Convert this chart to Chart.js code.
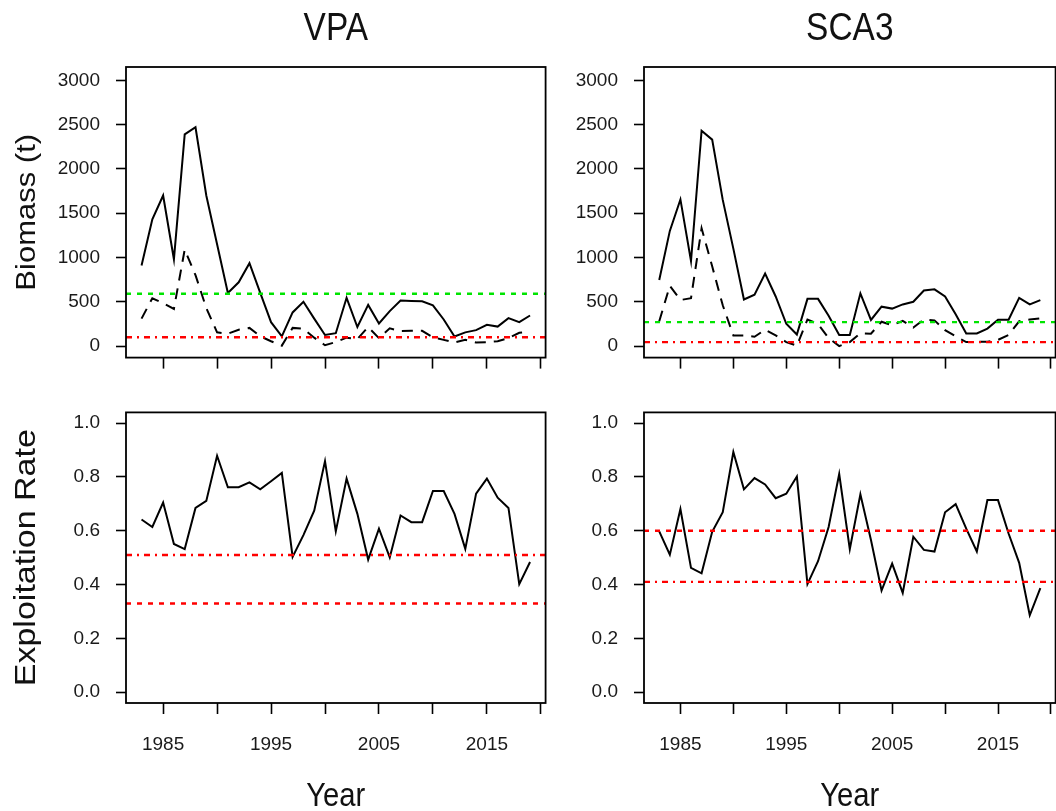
<!DOCTYPE html>
<html>
<head>
<meta charset="utf-8">
<title>VPA vs SCA3</title>
<script src="https://cdn.jsdelivr.net/npm/chart.js@4.4.1/dist/chart.umd.min.js"></script>
<style>
    html, body { margin: 0; padding: 0; background: #fff; }
    body { position: relative; width: 1056px; height: 811px; overflow: hidden; }
    canvas { position: absolute; }
</style>
</head>
<body>
<canvas id="vpaBiomass"></canvas>
<canvas id="scaBiomass"></canvas>
<canvas id="vpaRate"></canvas>
<canvas id="scaRate"></canvas>
<script>
// data
const years = [1983, 1984, 1985, 1986, 1987, 1988, 1989, 1990, 1991, 1992,
    1993, 1994, 1995, 1996, 1997, 1998, 1999, 2000, 2001, 2002,
    2003, 2004, 2005, 2006, 2007, 2008, 2009, 2010, 2011, 2012,
    2013, 2014, 2015, 2016, 2017, 2018, 2019];

const vpaTotal = [910, 1430, 1700, 980, 2390, 2470, 1700, 1150, 600, 720,
    935, 600, 270, 110, 380, 500, 310, 125, 145, 545,
    215, 465, 255, 395, 515, 510, 505, 460, 300, 108,
    155, 180, 240, 220, 315, 270, 345];
const vpaSpawning = [310, 540, 485, 420, 1090, 800, 430, 155, 140, 185,
    205, 110, 55, 5, 205, 195, 95, 10, 45, 95,
    80, 215, 90, 200, 170, 172, 172, 100, 70, 40,
    70, 40, 44, 55, 90, 150, 160];
const scaTotal = [745, 1300, 1655, 960, 2430, 2330, 1650, 1100, 526, 580,
    818, 560, 252, 131, 533, 533, 343, 124, 124, 595,
    295, 445, 423, 470, 500, 628, 640, 560, 360, 142,
    142, 197, 298, 298, 544, 471, 518];
const scaSpawning = [280, 680, 520, 540, 1330, 900, 460, 120, 120, 105,
    185, 120, 45, 5, 300, 250, 90, 0, 45, 145,
    140, 275, 235, 285, 210, 300, 290, 180, 110, 45,
    50, 50, 70, 125, 280, 300, 314];

const vpaExploit = [0.642, 0.614, 0.705, 0.551, 0.532, 0.685, 0.711, 0.879, 0.762, 0.762,
    0.780, 0.754, 0.784, 0.815, 0.503, 0.584, 0.675, 0.859, 0.598, 0.794,
    0.663, 0.493, 0.608, 0.501, 0.657, 0.632, 0.632, 0.748, 0.748, 0.663,
    0.533, 0.738, 0.794, 0.723, 0.685, 0.402, 0.484];
const scaExploit = [0.598, 0.511, 0.681, 0.462, 0.442, 0.596, 0.669, 0.893, 0.754, 0.796,
    0.772, 0.721, 0.738, 0.802, 0.402, 0.487, 0.614, 0.811, 0.532, 0.736,
    0.566, 0.378, 0.478, 0.369, 0.578, 0.529, 0.523, 0.669, 0.699, 0.608,
    0.523, 0.714, 0.714, 0.590, 0.481, 0.286, 0.387];

// reference levels: [green, red] for biomass, [upper, lower] for rate
const vpaBiomassRefs = [590, 100];
const scaBiomassRefs = [270, 45];
const vpaRateRefs = [0.51, 0.33];
const scaRateRefs = [0.60, 0.41];

const xTickYears = [1985, 1990, 1995, 2000, 2005, 2010, 2015, 2020];
const xLabelYears = [1985, 1995, 2005, 2015];
const biomassTicks = [0, 500, 1000, 1500, 2000, 2500, 3000];
const rateTicks = [0, 0.2, 0.4, 0.6, 0.8, 1.0];

const FONT = "'Liberation Sans', Arial, sans-serif";
const X_MIN = 1981.56, X_MAX = 2020.44;
const DASH = [5, 6];
const DOTDASH = [6, 5, 2, 5];
const GREEN = "#00e400";
const RED = "#ff0000";

const series = (values, dashed) => ({
    data: years.map((yr, i) => ({ x: yr, y: values[i] })),
    borderColor: "#000",
    borderWidth: 2,
    borderDash: dashed ? [11, 8] : [],
    pointRadius: 0,
    tension: 0,
    fill: false
});

const refLine = (value, color, dash) => ({
    data: [{ x: X_MIN, y: value }, { x: X_MAX, y: value }],
    borderColor: color,
    borderWidth: 2.4,
    borderDash: dash,
    pointRadius: 0,
    fill: false
});

// box round the plot plus titles, squeezed sideways like the original device
const framePlugin = {
    id: "frame",
    afterDraw(chart, args, opts) {
        const { ctx, chartArea: a } = chart;
        ctx.save();
        ctx.strokeStyle = "#000";
        ctx.lineWidth = 1.8;
        ctx.strokeRect(a.left, a.top, a.right - a.left, a.bottom - a.top);
        ctx.fillStyle = "#111";
        ctx.textAlign = "center";
        ctx.textBaseline = "alphabetic";
        const cx = (a.left + a.right) / 2;
        if (opts.title) {
            ctx.save();
            ctx.translate(cx, opts.titleY);
            ctx.scale(0.88, 1);
            ctx.font = `38px ${FONT}`;
            ctx.fillText(opts.title, 0, 0);
            ctx.restore();
        }
        if (opts.xTitle) {
            ctx.save();
            ctx.translate(cx, opts.xTitleY);
            ctx.scale(0.86, 1);
            ctx.font = `34px ${FONT}`;
            ctx.fillText(opts.xTitle, 0, 0);
            ctx.restore();
        }
        if (opts.yTitle) {
            ctx.translate(opts.yTitleX, (a.top + a.bottom) / 2);
            ctx.scale(0.88, 1);
            ctx.rotate(-Math.PI / 2);
            ctx.textBaseline = "middle";
            ctx.font = `${opts.yTitleSize}px ${FONT}`;
            ctx.fillText(opts.yTitle, 0, 0);
        }
        ctx.restore();
    }
};

function makePanel(id, p) {
    const canvas = document.getElementById(id);
    canvas.width = p.w;
    canvas.height = p.h;
    canvas.style.left = p.left + "px";
    canvas.style.top = p.top + "px";

    return new Chart(canvas, {
        type: "line",
        data: { datasets: p.datasets },
        plugins: [framePlugin],
        options: {
            responsive: false,
            animation: false,
            devicePixelRatio: 1,
            layout: { padding: { top: p.padTop, right: p.padRight, left: 0, bottom: 0 } },
            plugins: {
                legend: { display: false },
                tooltip: { enabled: false },
                frame: p.frame
            },
            scales: {
                x: {
                    type: "linear",
                    min: X_MIN,
                    max: X_MAX,
                    afterBuildTicks: s => { s.ticks = xTickYears.map(v => ({ value: v })); },
                    afterFit: s => { s.height = p.xHeight; },
                    ticks: {
                        autoSkip: false,
                        maxRotation: 0,
                        padding: 19,
                        color: "#1a1a1a",
                        font: { family: FONT, size: 19 },
                        callback: v => (p.xLabels && xLabelYears.includes(v)) ? String(v) : ""
                    },
                    grid: { drawOnChartArea: false, drawTicks: true, tickLength: 11, tickColor: "#000", tickWidth: 1.6 },
                    border: { display: false }
                },
                y: {
                    min: p.yMin,
                    max: p.yMax,
                    afterBuildTicks: s => { s.ticks = p.yTicks.map(v => ({ value: v })); },
                    afterFit: s => { s.width = p.yWidth; },
                    ticks: {
                        padding: 16,
                        color: "#1a1a1a",
                        font: { family: FONT, size: 19 },
                        callback: p.yFmt
                    },
                    grid: { drawOnChartArea: false, drawTicks: true, tickLength: 10, tickColor: "#000", tickWidth: 1.6 },
                    border: { display: false }
                }
            }
        }
    });
}

const biomassFmt = v => String(v);
const rateFmt = v => Number(v).toFixed(1);

makePanel("vpaBiomass", {
    left: 0, top: 0, w: 560, h: 385, padTop: 67, padRight: 14, yWidth: 126, xHeight: 18,
    yMin: -130, yMax: 3150, yTicks: biomassTicks, yFmt: biomassFmt, xLabels: false,
    frame: { title: "VPA", titleY: 40, yTitle: "Biomass (t)", yTitleX: 27, yTitleSize: 31 },
    datasets: [
        refLine(vpaBiomassRefs[0], GREEN, DASH),
        refLine(vpaBiomassRefs[1], RED, DOTDASH),
        series(vpaTotal, false),
        series(vpaSpawning, true)
    ]
});

makePanel("scaBiomass", {
    left: 570, top: 0, w: 500, h: 385, padTop: 67, padRight: 6, yWidth: 74, xHeight: 18,
    yMin: -130, yMax: 3150, yTicks: biomassTicks, yFmt: biomassFmt, xLabels: false,
    frame: { title: "SCA3", titleY: 40 },
    datasets: [
        refLine(scaBiomassRefs[0], GREEN, DASH),
        refLine(scaBiomassRefs[1], RED, DOTDASH),
        series(scaTotal, false),
        series(scaSpawning, true)
    ]
});

makePanel("vpaRate", {
    left: 0, top: 385, w: 560, h: 426, padTop: 17, padRight: 14, yWidth: 126, xHeight: 108,
    yMin: -0.04, yMax: 1.04, yTicks: rateTicks, yFmt: rateFmt, xLabels: true,
    frame: { xTitle: "Year", xTitleY: 421, yTitle: "Exploitation Rate", yTitleX: 27, yTitleSize: 34 },
    datasets: [
        refLine(vpaRateRefs[0], RED, DOTDASH),
        refLine(vpaRateRefs[1], RED, DASH),
        series(vpaExploit, false)
    ]
});

makePanel("scaRate", {
    left: 570, top: 385, w: 500, h: 426, padTop: 17, padRight: 6, yWidth: 74, xHeight: 108,
    yMin: -0.04, yMax: 1.04, yTicks: rateTicks, yFmt: rateFmt, xLabels: true,
    frame: { xTitle: "Year", xTitleY: 421 },
    datasets: [
        refLine(scaRateRefs[0], RED, DASH),
        refLine(scaRateRefs[1], RED, DOTDASH),
        series(scaExploit, false)
    ]
});
</script>
</body>
</html>
